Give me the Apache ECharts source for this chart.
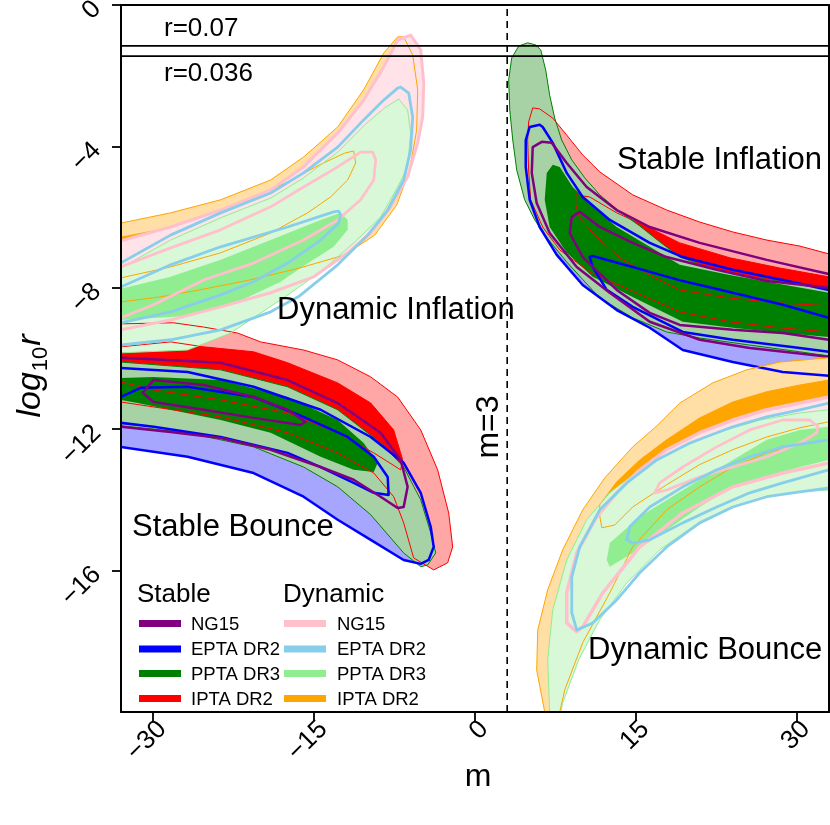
<!DOCTYPE html>
<html>
<head>
<meta charset="utf-8">
<script src="https://cdn.jsdelivr.net/npm/echarts@6/dist/echarts.min.js"></script>
<style>html,body{margin:0;padding:0;background:#fff}#chart{width:830px;height:825px}</style>
</head>
<body>
<div id="chart"></div>
<script>
// ---------- axes ----------
const xTicks = [-30, -15, 0, 15, 30];
const yTicks = [0, -4, -8, -12, -16];
const xRange = [-33, 33];
const yRange = [-20, 0];
const refR = [0.07, 0.036];
const refM = 3;

// ---------- Stable, inflation branch (m > 3) ----------
const siRed95 = [[5.38,-2.91],[6.03,-2.94],[7.25,-3.2],[8.55,-3.68],[10.04,-4.24],[11.63,-4.72],[14.7,-5.37],[17.87,-5.8],[20.95,-6.14],[24.03,-6.42],[27.2,-6.65],[30.28,-6.82],[32.98,-7.04],[34.5,-7.13],[34.5,-9.3],[32.98,-9.25],[28.41,-9.13],[23.75,-8.96],[19.09,-8.68],[14.42,-8.06],[10.69,-7.55],[7.9,-6.93],[6.31,-6.28],[5.19,-5.51],[5.0,-4.67],[4.91,-3.82],[5.0,-3.31]];
const siRed68 = [[9.39,-5.37],[10.69,-5.43],[13.21,-5.88],[16.29,-6.31],[19.09,-6.73],[23.75,-7.15],[28.41,-7.44],[32.98,-7.69],[34.5,-7.75],[34.5,-8.55],[32.98,-8.51],[28.41,-8.43],[23.75,-8.29],[19.09,-8.06],[16.29,-7.64],[13.49,-7.15],[11.16,-6.51],[9.76,-6.02],[9.39,-5.65]];
const siGreen95 = [[4.91,-1.07],[5.66,-1.13],[6.13,-1.27],[6.59,-1.84],[6.96,-2.55],[7.43,-3.2],[8.08,-3.82],[9.02,-4.38],[10.23,-4.89],[11.63,-5.37],[13.49,-5.85],[15.36,-6.25],[17.22,-6.7],[19.09,-7.13],[21.88,-7.44],[25.61,-7.69],[29.34,-7.86],[32.98,-8.03],[34.5,-8.08],[34.5,-9.95],[32.98,-9.93],[30.28,-9.81],[25.61,-9.62],[20.95,-9.42],[17.87,-9.25],[14.7,-8.85],[11.63,-8.29],[8.55,-7.27],[6.5,-6.51],[5.57,-6.08],[4.63,-5.51],[3.89,-4.67],[3.52,-3.82],[3.24,-2.97],[3.14,-2.12],[3.42,-1.5],[4.08,-1.16]];
const siGreen68 = [[7.25,-4.52],[7.9,-4.58],[9.11,-5.15],[10.97,-5.71],[13.21,-6.28],[16.29,-6.84],[19.09,-7.35],[23.75,-7.64],[28.41,-7.89],[32.98,-8.14],[34.5,-8.18],[34.5,-9.4],[32.98,-9.39],[28.69,-9.28],[24.03,-9.13],[19.37,-8.96],[14.7,-8.26],[10.97,-7.69],[8.55,-7.01],[6.96,-6.28],[6.5,-5.51],[6.69,-4.75]];
const siBlue95 = [[6.03,-3.39],[6.31,-3.45],[7.25,-3.9],[8.55,-4.75],[10.04,-5.43],[12.56,-6.08],[16.29,-6.73],[19.37,-7.13],[24.03,-7.49],[28.69,-7.78],[32.98,-8.06],[34.5,-8.1],[34.5,-10.52],[32.98,-10.49],[28.69,-10.38],[24.03,-10.1],[19.37,-9.76],[16.29,-9.13],[13.21,-8.63],[10.04,-7.92],[7.62,-7.07],[6.03,-6.28],[5.1,-5.51],[4.73,-4.58],[4.73,-3.82],[5.1,-3.45]];
const siBlue68 = [[10.69,-7.13],[10.97,-7.1],[14.7,-7.41],[19.37,-7.81],[24.03,-8.14],[28.69,-8.48],[32.98,-8.85],[34.5,-8.9],[34.5,-9.85],[32.98,-9.81],[30.28,-9.7],[24.03,-9.47],[19.37,-9.25],[14.7,-8.54],[12.28,-8.06],[10.97,-7.41]];
const siPurple95 = [[6.22,-3.87],[7.15,-3.9],[8.55,-4.47],[10.41,-5.15],[13.21,-5.8],[16.29,-6.28],[20.95,-6.73],[27.2,-7.21],[32.98,-7.61],[34.5,-7.65],[34.5,-10.0],[32.98,-9.95],[25.61,-9.7],[20.95,-9.47],[16.29,-8.96],[12.56,-8.14],[9.48,-7.41],[6.96,-6.45],[5.75,-5.6],[5.29,-4.75],[5.38,-4.02]];
const siPurple68 = [[9.02,-6.0],[9.76,-5.85],[11.63,-6.28],[14.7,-6.73],[17.87,-7.13],[22.53,-7.49],[27.2,-7.81],[32.98,-8.0],[34.5,-8.05],[34.5,-9.5],[32.98,-9.47],[28.69,-9.28],[24.03,-9.19],[19.09,-9.05],[16.29,-8.71],[13.21,-8.06],[10.04,-7.13],[8.83,-6.45]];

// ---------- Stable, bounce branch (m < 3) ----------
const sbRed95 = [[-34.5,-9.12],[-33.03,-9.02],[-28.1,-8.99],[-25.3,-9.11],[-22.13,-9.28],[-19.98,-9.53],[-15.98,-9.76],[-12.8,-10.04],[-9.72,-10.52],[-7.21,-11.09],[-5.06,-12.02],[-3.48,-13.15],[-2.45,-14.37],[-2.08,-15.33],[-2.55,-15.78],[-3.85,-15.98],[-5.72,-15.64],[-6.65,-14.65],[-7.58,-13.91],[-9.44,-13.24],[-12.8,-12.67],[-17.47,-12.1],[-23.71,-11.65],[-29.96,-11.37],[-33.03,-11.23],[-34.5,-11.2]];
const sbRed68 = [[-34.5,-9.72],[-33.03,-9.67],[-28.38,-9.53],[-25.3,-9.67],[-20.64,-9.81],[-17.47,-10.12],[-12.8,-10.69],[-9.72,-11.26],[-7.58,-12.02],[-6.74,-12.87],[-6.93,-13.15],[-9.44,-12.67],[-12.8,-12.1],[-17.47,-11.54],[-23.71,-11.17],[-29.96,-10.89],[-33.03,-10.66],[-34.5,-10.6]];
const sbGreen95 = [[-34.5,-10.08],[-33.03,-10.1],[-23.71,-10.32],[-17.47,-10.8],[-12.8,-11.45],[-8.8,-12.39],[-6.65,-13.07],[-5.06,-14.0],[-4.13,-14.93],[-3.66,-15.5],[-4.41,-15.84],[-5.06,-15.89],[-6.65,-15.5],[-9.72,-14.42],[-12.8,-13.63],[-15.98,-13.07],[-20.64,-12.5],[-26.79,-12.1],[-33.03,-11.9],[-34.5,-11.88]];
const sbGreen68 = [[-34.5,-10.55],[-33.03,-10.55],[-29.96,-10.52],[-23.71,-10.61],[-17.47,-11.09],[-12.8,-11.74],[-10.38,-12.39],[-9.07,-12.95],[-9.44,-13.21],[-11.31,-13.15],[-14.39,-12.78],[-19.05,-12.1],[-23.71,-11.74],[-28.38,-11.45],[-31.45,-11.26],[-33.03,-11.17],[-34.5,-11.17]];
const sbBlue95 = [[-34.5,-10.3],[-33.03,-10.27],[-26.79,-10.38],[-20.64,-10.8],[-14.39,-11.45],[-9.72,-12.22],[-6.65,-12.95],[-5.06,-13.8],[-4.13,-14.76],[-3.85,-15.33],[-4.32,-15.7],[-5.06,-15.81],[-6.65,-15.7],[-9.72,-15.13],[-12.8,-14.56],[-15.98,-13.91],[-20.64,-13.24],[-26.79,-12.78],[-33.03,-12.5],[-34.5,-12.47]];
const sbBlue68 = [[-34.5,-11.15],[-33.03,-11.09],[-31.17,-10.83],[-26.79,-10.8],[-20.64,-11.09],[-15.98,-11.65],[-11.87,-12.22],[-9.44,-12.78],[-8.14,-13.35],[-8.05,-13.86],[-9.44,-13.8],[-11.31,-13.52],[-14.39,-13.07],[-17.47,-12.67],[-23.71,-12.22],[-29.96,-11.93],[-33.03,-11.82],[-34.5,-11.8]];
const sbPurple95 = [[-34.5,-9.98],[-33.03,-9.98],[-23.71,-10.12],[-17.47,-10.61],[-12.8,-11.26],[-8.8,-12.1],[-6.93,-12.87],[-6.28,-13.63],[-6.65,-14.2],[-7.21,-14.23],[-8.8,-13.91],[-11.31,-13.43],[-14.39,-13.07],[-19.05,-12.58],[-23.71,-12.25],[-28.38,-12.08],[-33.03,-11.93],[-34.5,-11.93]];
const sbPurple68 = [[-30.98,-10.97],[-29.96,-10.61],[-25.3,-10.75],[-20.64,-11.09],[-17.47,-11.45],[-15.8,-11.79],[-16.26,-11.88],[-20.64,-11.68],[-25.3,-11.45],[-29.96,-11.23]];

// ---------- Dynamic, inflation branch (m < 3) ----------
const diOrange95 = [[-34.5,-6.22],[-33.03,-6.17],[-28.38,-5.88],[-23.71,-5.51],[-19.05,-4.95],[-15.98,-4.3],[-12.8,-3.45],[-10.38,-2.4],[-8.51,-1.36],[-7.21,-0.9],[-6.65,-0.9],[-5.81,-1.41],[-5.34,-2.4],[-5.44,-3.54],[-6.09,-4.67],[-7.3,-5.66],[-9.35,-6.51],[-12.15,-7.07],[-16.35,-7.44],[-21.01,-7.78],[-25.67,-8.06],[-29.4,-8.26],[-33.03,-8.4],[-34.5,-8.45]];
const diOrange68 = [[-11.31,-4.13],[-12.15,-4.19],[-14.48,-4.52],[-17.28,-4.98],[-21.01,-5.5],[-25.67,-6.02],[-29.4,-6.36],[-33.03,-6.57],[-34.5,-6.62],[-34.5,-7.75],[-33.03,-7.72],[-28.38,-7.41],[-23.71,-7.01],[-19.05,-6.45],[-15.61,-5.88],[-13.46,-5.43],[-11.87,-4.95],[-11.12,-4.47]];
const diPink95 = [[-6.0,-0.85],[-7.21,-0.99],[-8.51,-1.75],[-10.38,-2.69],[-12.8,-3.62],[-15.98,-4.58],[-19.05,-5.23],[-23.71,-5.8],[-28.38,-6.28],[-33.03,-6.67],[-34.5,-6.72],[-34.5,-9.25],[-33.03,-9.19],[-28.38,-8.91],[-23.71,-8.54],[-19.05,-8.14],[-15.04,-7.69],[-11.87,-7.01],[-9.72,-6.45],[-7.86,-5.71],[-6.28,-4.86],[-5.34,-3.9],[-4.88,-3.17],[-4.78,-2.21],[-5.06,-1.27]];
const diPink68 = [[-9.54,-4.16],[-10.66,-4.16],[-12.8,-4.58],[-15.98,-5.15],[-19.05,-5.71],[-23.71,-6.36],[-28.38,-6.87],[-33.03,-7.41],[-34.5,-7.48],[-34.5,-9.05],[-33.03,-8.85],[-29.96,-8.48],[-25.3,-7.78],[-20.64,-7.3],[-15.98,-6.65],[-12.8,-6.08],[-10.66,-5.51],[-9.44,-4.95],[-9.26,-4.38]];
const diSky95 = [[-6.93,-2.32],[-7.21,-2.35],[-8.51,-2.69],[-10.38,-3.25],[-12.8,-4.02],[-15.98,-4.75],[-19.05,-5.32],[-23.71,-5.88],[-28.38,-6.51],[-33.03,-7.3],[-34.5,-7.4],[-34.5,-9.65],[-33.03,-9.62],[-28.38,-9.47],[-23.71,-9.19],[-19.05,-8.68],[-16.35,-8.23],[-12.8,-7.35],[-10.0,-6.51],[-8.14,-5.8],[-6.65,-4.95],[-6.0,-4.1],[-5.81,-3.17],[-6.18,-2.49]];
const diSky68 = [[-12.71,-5.83],[-13.18,-5.85],[-17.47,-6.28],[-23.71,-6.84],[-28.38,-7.35],[-33.03,-7.98],[-34.5,-8.05],[-34.5,-9.05],[-33.03,-8.99],[-28.38,-8.68],[-23.71,-8.2],[-20.64,-7.83],[-17.47,-7.3],[-14.39,-6.65],[-12.71,-6.17],[-12.52,-5.94]];
const diGreen95 = [[-7.11,-2.66],[-8.42,-2.91],[-10.28,-3.39],[-12.8,-4.16],[-15.98,-4.89],[-19.05,-5.46],[-23.71,-6.02],[-28.38,-6.65],[-33.03,-7.44],[-34.5,-7.5],[-34.5,-9.86],[-33.03,-9.84],[-26.79,-9.76],[-22.78,-9.28],[-18.12,-8.34],[-14.39,-7.55],[-11.31,-6.73],[-8.8,-6.0],[-7.21,-5.15],[-6.28,-4.58],[-6.0,-3.62],[-6.28,-2.97]];
const diGreen68 = [[-11.87,-6.08],[-12.52,-5.88],[-14.39,-6.08],[-19.05,-6.65],[-23.71,-7.21],[-28.38,-7.69],[-33.03,-8.03],[-34.5,-8.1],[-34.5,-9.0],[-33.03,-8.91],[-26.79,-8.8],[-22.13,-8.4],[-18.12,-7.83],[-15.98,-7.38],[-13.18,-6.84],[-11.87,-6.36]];

// ---------- Dynamic, bounce branch (m > 3) ----------
const dbOrange95 = [[6.5,-20.4],[6.5,-20.0],[5.75,-18.81],[5.85,-17.68],[6.78,-16.54],[8.18,-15.41],[10.04,-14.28],[12.09,-13.38],[14.7,-12.5],[16.76,-11.96],[19.09,-11.26],[22.16,-10.69],[25.33,-10.32],[28.41,-10.1],[32.98,-9.98],[34.5,-9.96],[34.5,-12.3],[33.07,-12.3],[30.28,-12.44],[27.2,-12.67],[24.03,-13.07],[20.95,-13.63],[17.87,-14.28],[14.7,-15.33],[12.56,-16.63],[10.04,-18.04],[8.37,-19.37],[7.9,-20.0],[7.9,-20.4]];
const dbOrange68 = [[11.63,-14.45],[11.63,-14.14],[13.21,-13.49],[15.36,-12.87],[17.87,-12.3],[20.95,-11.68],[24.03,-11.23],[27.2,-10.94],[30.28,-10.75],[32.98,-10.61],[34.5,-10.58],[34.5,-11.8],[32.98,-11.79],[30.28,-11.96],[27.2,-12.22],[24.03,-12.58],[20.95,-13.0],[17.87,-13.57],[14.7,-14.2],[13.03,-14.71],[11.82,-14.79]];
const dbPink95 = [[9.48,-17.73],[8.55,-17.48],[8.55,-16.63],[9.48,-15.5],[11.34,-14.48],[13.21,-13.8],[15.36,-13.15],[17.87,-12.58],[20.95,-12.1],[24.03,-11.74],[27.2,-11.45],[30.28,-11.26],[32.98,-11.09],[34.5,-11.07],[34.5,-13.0],[33.07,-12.95],[28.69,-13.24],[24.03,-13.63],[19.37,-14.37],[15.36,-15.33],[11.91,-16.63],[10.04,-17.59]];
const dbPink68 = [[16.76,-13.8],[17.22,-13.52],[19.37,-13.07],[22.53,-12.5],[25.61,-12.02],[28.69,-11.74],[31.21,-11.74],[31.96,-11.93],[31.86,-12.1],[30.28,-12.39],[27.2,-12.78],[24.03,-13.07],[20.95,-13.35],[17.87,-13.72]];
const dbSky95 = [[9.48,-17.68],[9.02,-17.19],[9.02,-16.18],[9.76,-15.33],[11.63,-14.28],[14.15,-13.52],[16.95,-12.87],[20.02,-12.39],[24.03,-11.93],[27.2,-11.65],[30.28,-11.45],[32.98,-11.26],[34.5,-11.24],[34.5,-13.7],[33.07,-13.66],[30.28,-13.77],[27.2,-13.91],[24.03,-14.2],[20.95,-14.65],[17.87,-15.33],[15.36,-16.06],[13.21,-16.83],[10.97,-17.48]];
const dbSky68 = [[14.15,-15.13],[14.42,-14.76],[16.29,-14.2],[19.37,-13.63],[22.53,-13.15],[25.61,-12.78],[28.69,-12.5],[32.98,-12.3],[34.5,-12.28],[34.5,-13.2],[32.98,-13.15],[28.69,-13.52],[25.61,-13.8],[22.53,-14.2],[19.37,-14.65],[16.29,-15.13],[14.7,-15.22]];
const dbGreen95 = [[6.9,-20.4],[6.96,-20.0],[6.78,-18.52],[7.25,-17.11],[8.55,-15.7],[10.41,-14.56],[12.56,-13.8],[15.36,-13.15],[18.81,-12.58],[22.53,-12.1],[26.55,-11.74],[30.28,-11.54],[32.98,-11.45],[34.5,-11.43],[34.5,-13.75],[33.07,-13.72],[30.28,-13.77],[27.2,-13.91],[24.03,-14.2],[20.3,-14.76],[17.22,-15.41],[14.15,-16.35],[11.63,-17.39],[9.67,-18.52],[8.18,-19.74],[8.0,-20.0],[8.0,-20.4]];
const dbGreen68 = [[12.28,-15.7],[12.56,-15.22],[15.36,-14.48],[17.87,-14.0],[20.95,-13.43],[24.03,-12.87],[27.2,-12.3],[30.28,-12.02],[32.98,-11.93],[34.5,-11.9],[34.5,-12.95],[32.98,-12.87],[30.28,-13.07],[27.2,-13.35],[24.03,-13.63],[20.95,-14.2],[17.87,-14.85],[14.7,-15.5],[12.56,-15.89]];

// ---------- legend / text ----------
const stableNames = ['NG15', 'EPTA DR2', 'PPTA DR3', 'IPTA DR2'];
const stableColors = ['#800080', '#0000ff', '#008000', '#ff0000'];
const dynamicNames = ['NG15', 'EPTA DR2', 'PPTA DR3', 'IPTA DR2'];
const dynamicColors = ['#ffc0cb', '#87ceeb', '#90ee90', '#ffa500'];

// ---------- drawing layers (order = painting order) ----------
const FONT = '"Liberation Sans", Arial, Helvetica, sans-serif';
const fill = (pts, c) => ({ pts, fill: c });
const line = (pts, c, w) => ({ pts, stroke: c, lw: w });
const layers = [
  fill(siBlue95, '#a6a6ff'), fill(sbBlue95, '#a6a6ff'),
  fill(siRed95, '#ffa6a6'), fill(sbRed95, '#ffa6a6'),
  fill(siRed68, '#ff0000'), fill(sbRed68, '#ff0000'),
  fill(siGreen95, '#a6d2a6'), fill(sbGreen95, '#a6d2a6'),
  fill(siGreen68, '#008000'), fill(sbGreen68, '#008000'),
  fill(diOrange95, '#ffdfa6'), fill(dbOrange95, '#ffdfa6'),
  fill(diOrange68, '#ffa500'), fill(dbOrange68, '#ffa500'),
  fill(diPink95, '#ffe3e8'), fill(dbPink95, '#ffe3e8'),
  fill(diPink68, '#ffc0cb'), fill(dbPink68, '#ffc0cb'),
  fill(diGreen95, '#d8f8d8'), fill(dbGreen95, '#d8f8d8'),
  fill(diGreen68, '#90ee90'), fill(dbGreen68, '#90ee90'),
  line(siRed95, '#ff0000', 1), line(siRed68, '#ff0000', 1), line(sbRed95, '#ff0000', 1), line(sbRed68, '#ff0000', 1),
  line(siGreen95, '#008000', 1), line(sbGreen95, '#008000', 1),
  line(siBlue95, '#0000ff', 2.5), line(siBlue68, '#0000ff', 2.5), line(sbBlue95, '#0000ff', 2.5), line(sbBlue68, '#0000ff', 2.5),
  line(siPurple95, '#800080', 2.5), line(siPurple68, '#800080', 2.5), line(sbPurple95, '#800080', 2.5), line(sbPurple68, '#800080', 2.5),
  line(diOrange95, '#ffa500', 1), line(diOrange68, '#ffa500', 1), line(dbOrange95, '#ffa500', 1), line(dbOrange68, '#ffa500', 1),
  line(diGreen95, '#90ee90', 1), line(dbGreen95, '#90ee90', 1),
  line(diPink95, '#ffc0cb', 3), line(diPink68, '#ffc0cb', 2.8), line(dbPink95, '#ffc0cb', 3.5), line(dbPink68, '#ffc0cb', 2.8),
  line(diSky95, '#87ceeb', 2.8), line(diSky68, '#87ceeb', 2.8), line(dbSky95, '#87ceeb', 2.8), line(dbSky68, '#87ceeb', 2.8)
];

const minus = v => String(v).replace('-', '\u2212');
const chart = echarts.init(document.getElementById('chart'), null, { renderer: 'canvas' });

const graphics = [];
const txt = (text, x, y, size, opts) => Object.assign({
  type: 'text', x, y, z: 100,
  style: Object.assign({ text, fontSize: size, fontFamily: FONT, fill: '#000', textAlign: 'left', textVerticalAlign: 'middle' }, (opts && opts.style) || {})
}, (opts && opts.el) || {});
graphics.push(txt('r=0.07', 164, 29, 26));
graphics.push(txt('r=0.036', 164, 74, 26));
graphics.push(txt('Dynamic Inflation', 277, 310, 31));
graphics.push(txt('Stable Inflation', 617, 160, 31));
graphics.push(txt('Stable Bounce', 132, 527, 31));
graphics.push(txt('Dynamic Bounce', 588, 650, 31));
graphics.push(txt('m=3', 489, 427, 32, { el: { rotation: Math.PI / 2 }, style: { textAlign: 'center' } }));
graphics.push(txt('m', 478, 777, 32, { style: { textAlign: 'center' } }));

// y-axis title: log_10 r (italic, with subscript) as three text pieces in a rotated group
(function () {
  const ctx = document.createElement('canvas').getContext('2d');
  const big = 34, small = 22;
  ctx.font = 'italic ' + big + 'px ' + FONT; const w1 = ctx.measureText('log').width; const w3 = ctx.measureText('r').width;
  ctx.font = small + 'px ' + FONT; const w2 = ctx.measureText('10').width;
  const W = w1 + w2 + w3 + 2;
  const x0 = -W / 2;
  graphics.push({
    type: 'group', x: 31, y: 376, rotation: Math.PI / 2, z: 100,
    children: [
      { type: 'text', x: x0, y: 0, style: { text: 'log', fontSize: big, fontStyle: 'italic', fontFamily: FONT, fill: '#000', textAlign: 'left', textVerticalAlign: 'middle' } },
      { type: 'text', x: x0 + w1 + 1, y: 9.5, style: { text: '10', fontSize: small, fontFamily: FONT, fill: '#000', textAlign: 'left', textVerticalAlign: 'middle' } },
      { type: 'text', x: x0 + w1 + w2 + 2, y: 0, style: { text: 'r', fontSize: big, fontStyle: 'italic', fontFamily: FONT, fill: '#000', textAlign: 'left', textVerticalAlign: 'middle' } }
    ]
  });
})();

// legend
graphics.push(txt('Stable', 137, 595, 26));
graphics.push(txt('Dynamic', 283, 595, 26));
const rowY = [623.5, 649, 673.5, 698.5];
stableNames.forEach((n, i) => {
  graphics.push({ type: 'rect', z: 100, shape: { x: 139, y: rowY[i] - 3.5, width: 42, height: 7 }, style: { fill: stableColors[i] } });
  graphics.push(txt(n, 191, rowY[i] + 1, 18.5));
});
dynamicNames.forEach((n, i) => {
  graphics.push({ type: 'rect', z: 100, shape: { x: 284, y: rowY[i] - 3.5, width: 42, height: 7 }, style: { fill: dynamicColors[i] } });
  graphics.push(txt(n, 337, rowY[i] + 1, 18.5));
});

const axisCommon = {
  type: 'value',
  splitLine: { show: false },
  axisLine: { show: true, onZero: false, lineStyle: { color: '#000', width: 2 } },
  z: 10
};

const option = {
  animation: false,
  backgroundColor: '#fff',
  grid: { left: 121, top: 5, right: 1, bottom: 113, show: false, containLabel: false, outerBoundsMode: 'none' },
  xAxis: [
    Object.assign({}, axisCommon, {
      min: xRange[0], max: xRange[1], position: 'bottom',
      axisTick: { show: true, length: 9, lineStyle: { color: '#000', width: 1.8 }, customValues: xTicks },
      axisLabel: { show: true, rotate: 45, fontSize: 26, color: '#000', fontFamily: FONT, margin: 4, verticalAlign: 'top', customValues: xTicks, formatter: minus }
    }),
    Object.assign({}, axisCommon, {
      min: xRange[0], max: xRange[1], position: 'top',
      axisTick: { show: false }, axisLabel: { show: false }
    })
  ],
  yAxis: [
    Object.assign({}, axisCommon, {
      min: yRange[0], max: yRange[1], position: 'left',
      axisTick: { show: true, length: 9, lineStyle: { color: '#000', width: 1.8 }, customValues: yTicks },
      axisLabel: { show: true, rotate: 45, fontSize: 26, color: '#000', fontFamily: FONT, margin: 24, customValues: yTicks, formatter: minus }
    }),
    Object.assign({}, axisCommon, {
      min: yRange[0], max: yRange[1], position: 'right',
      axisTick: { show: false }, axisLabel: { show: false }
    })
  ],
  graphic: graphics,
  series: [
    {
      type: 'custom',
      coordinateSystem: 'cartesian2d',
      xAxisIndex: 0, yAxisIndex: 0,
      clip: true,
      silent: true,
      z: 2,
      data: layers.map((l, i) => [0, -10, i]),
      renderItem: function (params, api) {
        const l = layers[params.dataIndex];
        const pts = l.pts.map(p => api.coord(p));
        const cs = params.coordSys;
        return {
          type: 'group',
          clipPath: { type: 'rect', shape: { x: cs.x, y: cs.y, width: cs.width, height: cs.height } },
          children: [{
            type: 'polygon',
            shape: { points: pts },
            style: {
              fill: l.fill || 'none',
              stroke: l.stroke || 'none',
              lineWidth: l.lw || 0,
              lineJoin: 'round'
            }
          }]
        };
      }
    },
    {
      type: 'line', silent: true, z: 5, symbol: 'none',
      data: [[xRange[0], Math.log10(refR[0])], [xRange[1], Math.log10(refR[0])]],
      lineStyle: { color: '#000', width: 1.8 }
    },
    {
      type: 'line', silent: true, z: 5, symbol: 'none',
      data: [[xRange[0], Math.log10(refR[1])], [xRange[1], Math.log10(refR[1])]],
      lineStyle: { color: '#000', width: 1.8 }
    },
    {
      type: 'line', silent: true, z: 5, symbol: 'none',
      data: [[refM, yRange[0]], [refM, yRange[1]]],
      lineStyle: { color: '#000', width: 1.6, type: [7, 5] }
    }
  ]
};
chart.setOption(option);
</script>
</body>
</html>
